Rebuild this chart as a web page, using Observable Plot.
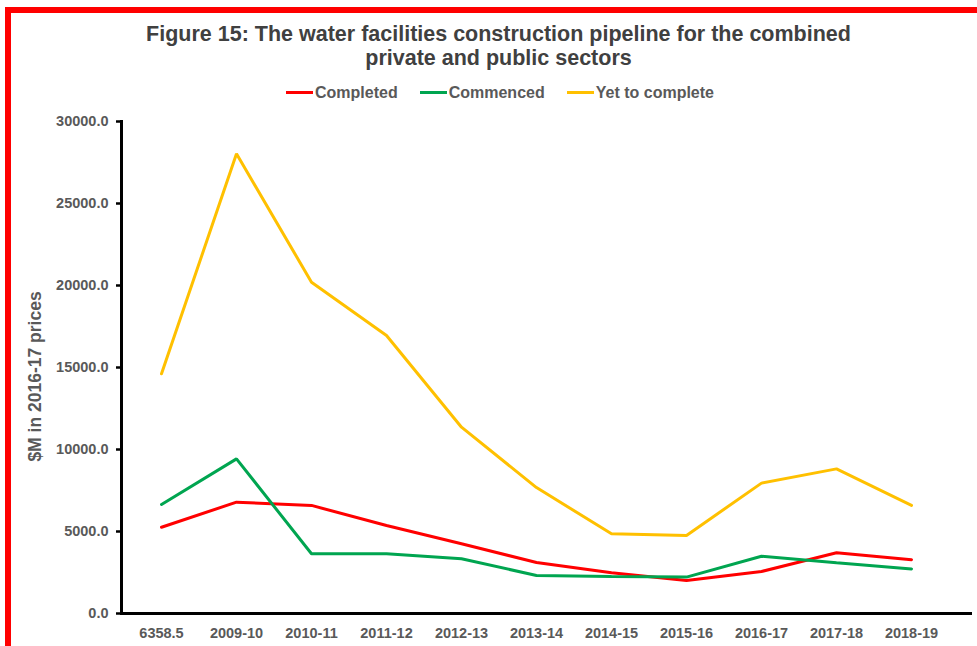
<!DOCTYPE html>
<html>
<head>
<meta charset="utf-8">
<script src="https://cdn.jsdelivr.net/npm/d3@7"></script>
<script src="https://cdn.jsdelivr.net/npm/@observablehq/plot@0.6"></script>
<style>
  html, body { margin: 0; padding: 0; background: #fff; }
  #wrap { position: relative; width: 977px; height: 646px; overflow: hidden; background: #fff; font-family: "Liberation Sans", Arial, sans-serif; }
  #border { position: absolute; left: 5px; top: 7px; width: 980px; height: 700px; border-left: 6px solid #ff0000; border-top: 6px solid #ff0000; box-sizing: border-box; pointer-events: none; }
  #title { position: absolute; left: 0; width: 997px; top: 22px; text-align: center; font-weight: bold; font-size: 21.5px; line-height: 24px; color: #404040; }
  #legend { position: absolute; left: 0; width: 1000px; top: 84px; text-align: center; font-weight: bold; font-size: 16px; color: #595959; }
  #legend span.item { display: inline-block; margin: 0 11px; }
  #legend span.sw { display: inline-block; width: 27px; height: 3px; vertical-align: middle; margin-right: 2px; position: relative; top: -1px; }
  #chart { position: absolute; left: 0; top: 105px; }
</style>
</head>
<body>
<div id="wrap">
  <div id="title">Figure 15: The water facilities construction pipeline for the combined<br>private and public sectors</div>
  <div id="legend"></div>
  <div id="chart"></div>
  <div id="border"></div>
</div>
<script>
const categories = ["6358.5","2009-10","2010-11","2011-12","2012-13","2013-14","2014-15","2015-16","2016-17","2017-18","2018-19"];
const completed = [5260, 6790, 6590, 5370, 4250, 3110, 2480, 2010, 2560, 3700, 3280];
const commenced = [6650, 9430, 3640, 3640, 3340, 2320, 2260, 2220, 3490, 3090, 2720];
const yetToComplete = [14620, 28030, 20200, 16950, 11360, 7680, 4860, 4760, 7950, 8820, 6590];
const seriesNames = ["Completed", "Commenced", "Yet to complete"];
const seriesColors = ["#ff0000", "#00a550", "#ffc000"];
const yTicks = [0, 5000, 10000, 15000, 20000, 25000, 30000];

const seriesValues = [completed, commenced, yetToComplete];
const data = [];
seriesNames.forEach((s, i) => categories.forEach((c, j) => data.push({series: s, cat: c, value: seriesValues[i][j]})));

const legend = document.getElementById("legend");
seriesNames.forEach((s, i) => {
  const item = document.createElement("span");
  item.className = "item";
  item.innerHTML = `<span class="sw" style="background:${seriesColors[i]}"></span>${s}`;
  legend.appendChild(item);
});

const chart = Plot.plot({
  width: 977,
  height: 541,
  marginLeft: 121,
  marginRight: 5,
  marginTop: 16,
  marginBottom: 33,
  style: { fontFamily: "Liberation Sans, Arial, sans-serif", background: "transparent" },
  x: { type: "point", domain: categories, padding: 0, insetLeft: 37, insetRight: 58, label: null },
  y: { domain: [0, 30000], label: null },
  color: { domain: seriesNames, range: seriesColors },
  marks: [
    Plot.axisY({ ticks: yTicks, tickFormat: d => d.toFixed(1), tickSize: 5, tickPadding: 8, fontSize: 14.5, fontWeight: "bold", fill: "#595959", stroke: "#000", strokeWidth: 2.5, label: null }),
    Plot.axisX({ tickSize: 0, tickPadding: 14, fontSize: 14.5, fontWeight: "bold", fill: "#595959", label: null }),
    Plot.text(["$M in 2016-17 prices"], { frameAnchor: "left", textAnchor: "middle", dx: -86, dy: 9, rotate: -90, fontSize: 17.5, fontWeight: "bold", fill: "#595959" }),
    Plot.lineY(data, { x: "cat", y: "value", stroke: "series", strokeWidth: 3, strokeLinejoin: "miter" }),
    Plot.frame({ anchor: "left", stroke: "#000", strokeWidth: 3 }),
    Plot.ruleY([0], { stroke: "#000", strokeWidth: 3 })
  ]
});
document.getElementById("chart").appendChild(chart);
</script>
</body>
</html>
